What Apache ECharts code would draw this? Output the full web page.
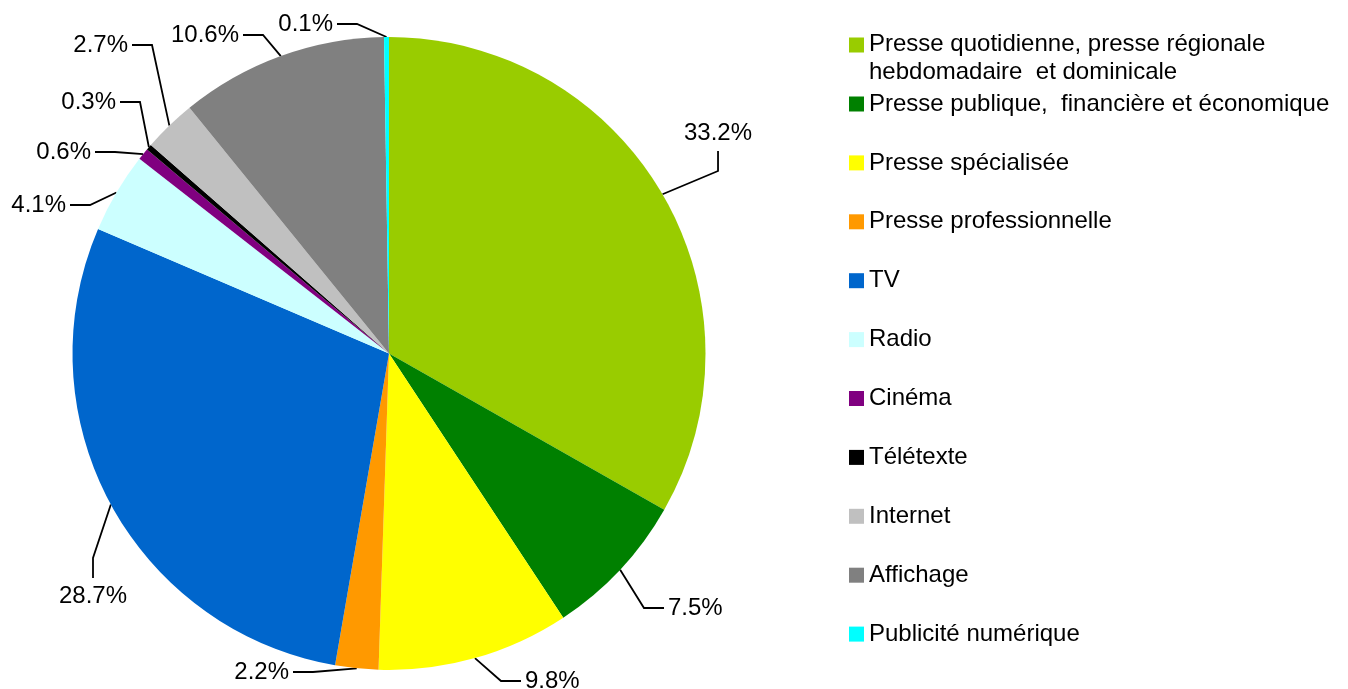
<!DOCTYPE html>
<html><head><meta charset="utf-8">
<script src="https://cdn.jsdelivr.net/npm/echarts@6/dist/echarts.min.js"></script>
<style>html,body{margin:0;padding:0;background:#fff}#c{width:1348px;height:689px}</style>
</head><body><div id="c"></div>
<script>
const categories = [
  'Presse quotidienne, presse régionale\nhebdomadaire  et dominicale',
  'Presse publique,  financière et économique',
  'Presse spécialisée',
  'Presse professionnelle',
  'TV',
  'Radio',
  'Cinéma',
  'Télétexte',
  'Internet',
  'Affichage',
  'Publicité numérique'
];
const shares = [33.2, 7.5, 9.8, 2.2, 28.7, 4.1, 0.6, 0.3, 2.7, 10.6, 0.1];
const colors = ['#99CC00','#008000','#FFFF00','#FF9900','#0066CC','#CCFFFF','#800080','#000000','#C0C0C0','#808080','#00FFFF'];

// label placement (layout/styling only, not data); side = where the leader line attaches
const labelPlace = [
  {x: 684, y: 133, align: 'left',   side: 'bottom'},
  {x: 668, y: 608, align: 'left',   side: 'left'},
  {x: 525, y: 681, align: 'left',   side: 'left'},
  {x: 289, y: 672, align: 'right',  side: 'right'},
  {x: 93,  y: 596, align: 'center', side: 'top'},
  {x: 66,  y: 205, align: 'right',  side: 'right'},
  {x: 91,  y: 152, align: 'right',  side: 'right'},
  {x: 116, y: 102, align: 'right',  side: 'right'},
  {x: 128, y: 45,  align: 'right',  side: 'right'},
  {x: 239, y: 35,  align: 'right',  side: 'right'},
  {x: 333, y: 24,  align: 'right',  side: 'right'}
];
const GAP = 4, SEG = 20;

const FONT = "'Liberation Sans', Arial, sans-serif";
const chart = echarts.init(document.getElementById('c'), null, {renderer: 'canvas'});

const pieData = categories.map((n, i) => ({name: n, value: shares[i], itemStyle: {color: colors[i]}}));

function layoutLabel(p) {
  const lp = labelPlace[p.dataIndex];
  const w = p.labelRect.width, h = p.labelRect.height;
  const start = p.labelLinePoints ? p.labelLinePoints[0] : null;
  let cx;
  if (lp.align === 'left') cx = lp.x + w / 2;
  else if (lp.align === 'right') cx = lp.x - w / 2;
  else cx = lp.x;
  let end, elbow;
  if (lp.side === 'bottom') {
    end = [cx, lp.y + h / 2 + GAP + 2];
    elbow = [cx, lp.y + h / 2 + GAP + 2 + SEG];
  } else if (lp.side === 'top') {
    end = [cx, lp.y - h / 2 - GAP - 2];
    elbow = [cx, lp.y - h / 2 - GAP - 2 - SEG];
  } else if (lp.side === 'left') {
    const lx = cx - w / 2;
    end = [lx - GAP, lp.y];
    elbow = [lx - GAP - SEG, lp.y];
  } else {
    const rx = cx + w / 2;
    end = [rx + GAP, lp.y];
    elbow = [rx + GAP + SEG, lp.y];
  }
  const res = {x: lp.x, y: lp.y, align: lp.align, verticalAlign: 'middle', hideOverlap: false};
  if (start) res.labelLinePoints = [start, elbow, end];
  return res;
}

const option = {
  animation: false,
  backgroundColor: '#fff',
  legend: [
    {
      orient: 'vertical', left: 849, top: 30.5, padding: 0,
      itemWidth: 15, itemHeight: 42,
      data: [{name: categories[0], icon: 'path://M0,0h15v15h-15z M0,42h0.01v0.01h-0.01z'}],
      textStyle: {fontFamily: FONT, fontSize: 24, color: '#000', lineHeight: 28},
      selectedMode: false
    },
    {
      orient: 'vertical', left: 849, top: 92, padding: 0,
      itemWidth: 15, itemHeight: 15, itemGap: 34.9,
      icon: 'rect',
      data: categories.slice(1),
      textStyle: {fontFamily: FONT, fontSize: 24, color: '#000'},
      selectedMode: false
    }
  ],
  series: [{
    type: 'pie',
    center: [389, 353.5],
    radius: 316.5,
    startAngle: 90,
    clockwise: true,
    minAngle: 0.9,
    avoidLabelOverlap: false,
    data: pieData,
    itemStyle: {borderWidth: 0},
    emphasis: {scale: false},
    label: {
      show: true,
      position: 'outside',
      color: '#000',
      fontFamily: FONT,
      fontSize: 24,
      formatter: p => p.value.toFixed(1) + '%'
    },
    labelLine: {
      show: true, length: 15, length2: 18,
      lineStyle: {color: '#000', width: 1.8}
    },
    labelLayout: layoutLabel
  }]
};
chart.setOption(option);
</script>
</body></html>
